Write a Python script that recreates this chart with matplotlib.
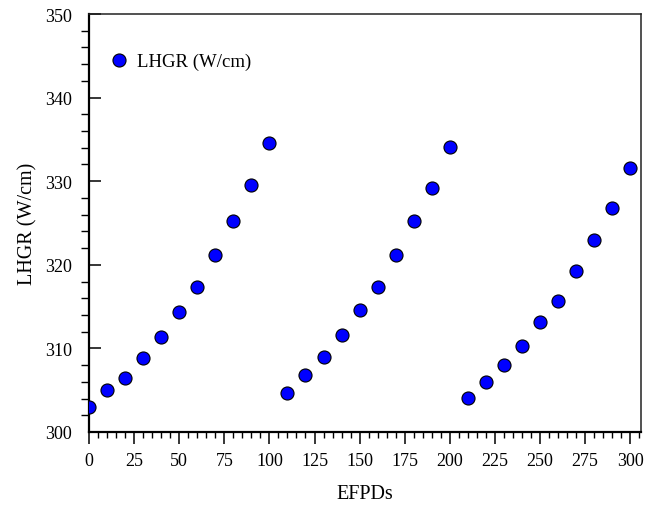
import numpy as np
import matplotlib
matplotlib.use("Agg")
import matplotlib.pyplot as plt
from matplotlib.ticker import MultipleLocator

# burnup steps (effective full power days) and linear heat generation rate
efpd = [0, 10, 20, 30, 40, 50, 60, 70, 80, 90, 100,
        110, 120, 130, 140, 150, 160, 170, 180, 190, 200,
        210, 220, 230, 240, 250, 260, 270, 280, 290, 300]
lhgr = [302.95, 305.0, 306.45, 308.85, 311.4, 314.3, 317.3, 321.2, 325.2, 329.5, 334.6,
        304.7, 306.8, 309.0, 311.55, 314.6, 317.4, 321.2, 325.2, 329.15, 334.1,
        304.05, 305.95, 308.05, 310.3, 313.2, 315.7, 319.3, 323.0, 326.8, 331.6]
xticks = np.arange(0, 301, 25)
yticks = np.arange(300, 351, 10)

plt.rcParams['font.family'] = ['Liberation Serif', 'DejaVu Serif']

fig = plt.figure(figsize=(6.46, 5.06), dpi=100)
ax = fig.add_axes([0.1378, 0.1443, 0.8545, 0.826])

ax.plot(efpd, lhgr, linestyle='none', marker='o', markersize=9.4,
        markerfacecolor='#0000ff', markeredgecolor='black', markeredgewidth=0.8,
        label='LHGR (W/cm)', zorder=3)

ax.set_xlim(0, 306)
ax.set_ylim(300, 350)
ax.set_xticks(xticks)
ax.set_yticks(yticks)
ax.xaxis.set_minor_locator(MultipleLocator(5))
ax.yaxis.set_minor_locator(MultipleLocator(2))

# Origin-style axes: heavier left/bottom, lighter top/right
for side in ['left', 'bottom']:
    ax.spines[side].set_linewidth(1.6)
for side in ['top', 'right']:
    ax.spines[side].set_linewidth(1.1)
    ax.spines[side].set_color('#222222')

ax.tick_params(axis='x', which='major', direction='out', length=8.5, width=1.1,
               labelsize=13, pad=6)
ax.tick_params(axis='x', which='minor', direction='out', length=4.3, width=1.0)
ax.tick_params(axis='y', which='major', direction='in', length=8.5, width=1.1,
               labelsize=13, pad=12)
ax.tick_params(axis='y', which='minor', direction='out', length=5.5, width=1.0)

ax.set_xlabel('EFPDs', fontsize=14.5, labelpad=11)
ax.set_ylabel('LHGR (W/cm)', fontsize=14.5, labelpad=6)

ax.legend(loc='upper left', bbox_to_anchor=(0.021, 0.925), frameon=False,
          fontsize=13.5, handletextpad=0.35, handlelength=1.2, borderaxespad=0)

fig.savefig('out.png', dpi=100)
